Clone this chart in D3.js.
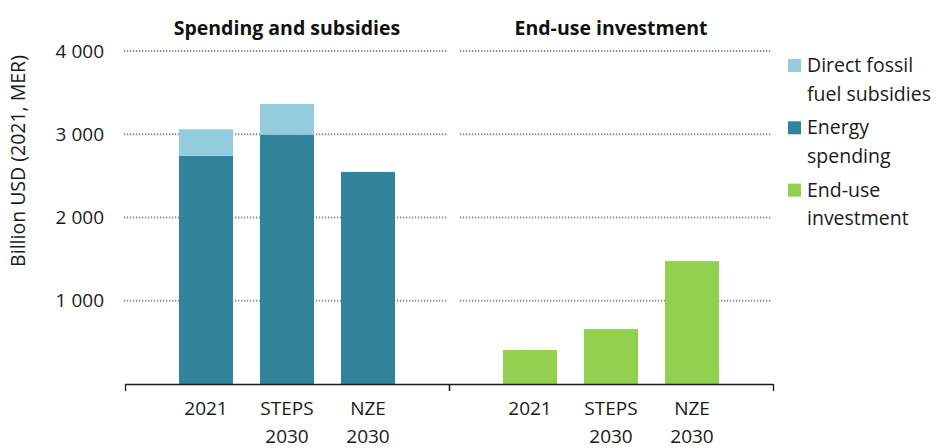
<!DOCTYPE html>
<html><head><meta charset="utf-8">
<script src="https://cdn.jsdelivr.net/npm/d3@7"></script>
<style>body{margin:0;background:#fff}svg{display:block;font-family:"Open Sans",sans-serif}</style>
</head><body><svg id="c" width="936" height="448"></svg>
<script>
const panels = ["Spending and subsidies", "End-use investment"];
const categories = [["2021"], ["STEPS", "2030"], ["NZE", "2030"]];
const catKeys = ["2021", "STEPS 2030", "NZE 2030"];
const energySpending = [2740, 2995, 2548];
const fossilSubsidies = [320, 369, 0];
const endUseInvestment = [408, 660, 1476];
const yTicks = [1000, 2000, 3000, 4000];
const legendItems = [
  {lines: ["Direct fossil", "fuel subsidies"], color: "#93CDDD"},
  {lines: ["Energy", "spending"], color: "#31849B"},
  {lines: ["End-use", "investment"], color: "#92D050"}
];

const svg = d3.select("#c");
const y = d3.scaleLinear().domain([0, 4000]).range([384, 51]);
const panelX = [[125, 449], [449, 773]];

svg.append("g").selectAll("text").data(yTicks).join("text")
  .attr("x", 104).attr("y", d => y(d)).attr("dy", "0.35em")
  .attr("text-anchor", "end").attr("font-size", 19).attr("fill", "#1a1a1a")
  .text(d => d3.format(",")(d).replace(",", " "));

svg.append("text").attr("transform", "translate(25,161) rotate(-90)")
  .attr("text-anchor", "middle").attr("font-size", 19.5).attr("fill", "#1a1a1a")
  .text("Billion USD (2021, MER)");

panels.forEach((title, i) => {
  const [x0, x1] = panelX[i];
  const x = d3.scaleBand().domain(catKeys).range([x0, x1]).paddingInner(1/3).paddingOuter(2/3);
  const g = svg.append("g");
  const gx0 = i === 0 ? x0 - 1 : x0 + 11;
  const gx1 = x1 - 1;
  g.selectAll("line.grid").data(yTicks).join("line").attr("class", "grid")
    .attr("x1", gx0).attr("x2", gx1).attr("y1", d => y(d)).attr("y2", d => y(d))
    .attr("stroke", "#8c8c8c").attr("stroke-width", 2).attr("stroke-dasharray", "1.3 1.7");
  if (i === 0) {
    const stack = d3.stack().keys(["energy", "subsidy"])(
      catKeys.map((k, j) => ({cat: k, energy: energySpending[j], subsidy: fossilSubsidies[j]})));
    const colors = ["#31849B", "#93CDDD"];
    stack.forEach((s, si) => {
      g.append("g").selectAll("rect").data(s.filter(d => d[1] > d[0])).join("rect")
        .attr("x", d => x(d.data.cat)).attr("width", x.bandwidth())
        .attr("y", d => y(d[1])).attr("height", d => y(d[0]) - y(d[1]))
        .attr("fill", colors[si]);
    });
  } else {
    g.selectAll("rect").data(catKeys).join("rect")
      .attr("x", d => x(d)).attr("width", x.bandwidth())
      .attr("y", (d, j) => y(endUseInvestment[j])).attr("height", (d, j) => y(0) - y(endUseInvestment[j]))
      .attr("fill", "#92D050");
  }
  g.append("line").attr("x1", x0).attr("x2", x1).attr("y1", 384.5).attr("y2", 384.5)
    .attr("stroke", "#1a1a1a").attr("stroke-width", 1.3);
  [x0, x1].forEach(xx => g.append("line").attr("x1", xx + 0.5).attr("x2", xx + 0.5)
    .attr("y1", 384).attr("y2", 391).attr("stroke", "#1a1a1a").attr("stroke-width", 1.3));
  catKeys.forEach((k, j) => {
    const t = g.append("text").attr("text-anchor", "middle").attr("font-size", 19).attr("fill", "#1a1a1a");
    categories[j].forEach((line, li) => t.append("tspan")
      .attr("x", x(k) + x.bandwidth() / 2).attr("y", 415 + li * 28).text(line));
  });
  g.append("text").attr("x", (x0 + x1) / 2).attr("y", 35).attr("text-anchor", "middle")
    .attr("font-size", 19.5).attr("font-weight", "bold").attr("fill", "#111").text(title);
});

const lg = svg.append("g");
legendItems.forEach((it, i) => {
  const yy = 59 + i * 62.3;
  lg.append("rect").attr("x", 788).attr("y", yy).attr("width", 13).attr("height", 13).attr("fill", it.color);
  it.lines.forEach((l, li) => lg.append("text").attr("x", 807).attr("y", yy + 13 + li * 28.5)
    .attr("font-size", 19.5).attr("fill", "#1a1a1a").text(l));
});
</script></body></html>
